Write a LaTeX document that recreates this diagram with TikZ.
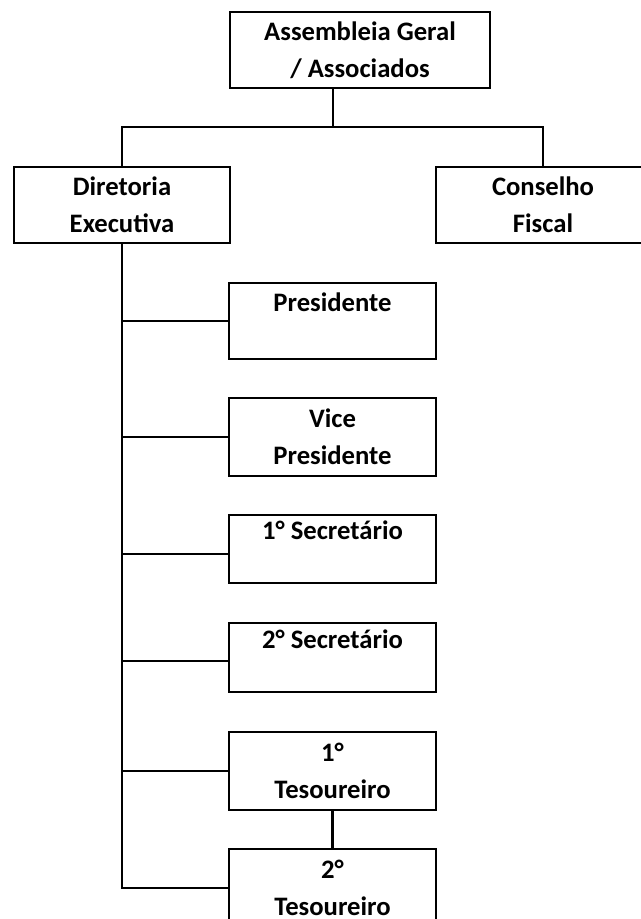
\documentclass[tikz,border=0pt]{standalone}
\usepackage{fontspec}
\setmainfont{Carlito}
\tikzset{
  box/.style={draw, line width=2pt, align=center, inner sep=0pt,
    font=\bfseries\fontsize{20}{27.75}\selectfont},
  conn/.style={line width=2pt}
}
\begin{document}
\begin{tikzpicture}[x=0.75pt,y=-0.75pt]
\useasboundingbox (0,0) rectangle (640,919);
\node[box, minimum width=195pt, minimum height=57pt] (ag) at (360,50) {Assembleia Geral\\/ Associados};
\node[box, minimum width=162pt, minimum height=57pt] (de) at (122,205) {Diretoria\\Executiva};
\node[box, minimum width=160.5pt, minimum height=57pt] (cf) at (543,205) {Conselho\\Fiscal};
\node[box, minimum width=155.25pt, minimum height=57pt] (pres) at (332.5,321) {Presidente\\~};
\node[box, minimum width=155.25pt, minimum height=58.5pt] (vice) at (332.5,437) {Vice\\Presidente};
\node[box, minimum width=155.25pt, minimum height=51pt] (sec1) at (332.5,549) {1° Secretário\\~};
\node[box, minimum width=155.25pt, minimum height=51.75pt] (sec2) at (332.5,657.5) {2° Secretário\\~};
\node[box, minimum width=155.25pt, minimum height=58.5pt] (tes1) at (332.5,771) {1°\\Tesoureiro};
\node[box, minimum width=155.25pt, minimum height=58.5pt] (tes2) at (332.5,888) {2°\\Tesoureiro};
\coordinate (j) at (333,127);
\draw[conn] (ag.south -| j) -- (j);
\draw[conn] (de.north) |- (cf.north |- j) -- (cf.north);
\draw[conn] (de.south) -- (de.south |- tes2.west) -- (tes2.west);
\draw[conn] (de.south |- pres.west) -- (pres.west);
\draw[conn] (de.south |- vice.west) -- (vice.west);
\coordinate (b3) at ([yshift=-3.75pt]sec1.west);
\draw[conn] (de.south |- b3) -- (b3);
\coordinate (b4) at ([yshift=-2.6pt]sec2.west);
\draw[conn] (de.south |- b4) -- (b4);
\draw[conn] (de.south |- tes1.west) -- (tes1.west);
\draw[conn] (tes1.south) -- (tes2.north);
\end{tikzpicture}
\end{document}
